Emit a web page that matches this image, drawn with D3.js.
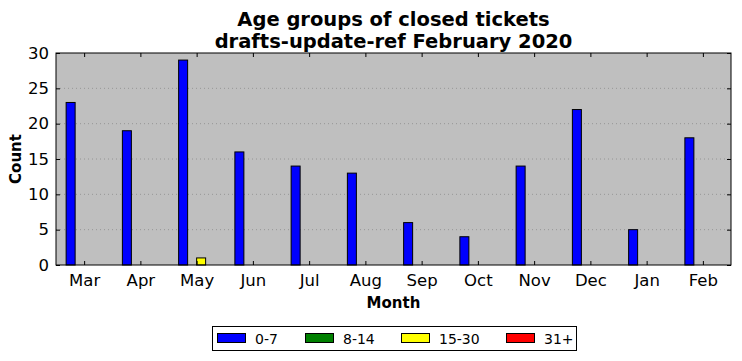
<!DOCTYPE html>
<html><head><meta charset="utf-8">
<script src="https://cdn.jsdelivr.net/npm/d3@7"></script>
<style>body{margin:0;background:#fff}svg{display:block}text{font-family:"DejaVu Sans",sans-serif}</style>
</head><body>
<svg id="c" width="742" height="361"></svg>
<script>
const months = ["Mar","Apr","May","Jun","Jul","Aug","Sep","Oct","Nov","Dec","Jan","Feb"];
const age0_7 = [23,19,29,16,14,13,6,4,14,22,5,18];
const age8_14 = [0,0,0,0,0,0,0,0,0,0,0,0];
const age15_30 = [0,0,1,0,0,0,0,0,0,0,0,0];
const age31p = [0,0,0,0,0,0,0,0,0,0,0,0];
const seriesNames = ["0-7","8-14","15-30","31+"];
const seriesColors = ["#0000ff","#008000","#ffff00","#ff0000"];
const yTicks = [0,5,10,15,20,25,30];
const series = [age0_7, age8_14, age15_30, age31p];

const svg = d3.select("#c");
const L=56, R=731, T=53, B=265;
const x = d3.scaleLinear().domain([-0.5, 11.5]).range([L, R]);
const y = d3.scaleLinear().domain([0, 30]).range([B, T]);
const bw = 0.16;

svg.append("rect").attr("x",L).attr("y",T).attr("width",R-L).attr("height",B-T).attr("fill","#bfbfbf");

// grid
svg.append("g").selectAll("line").data(yTicks.filter(d=>d>0&&d<30)).join("line")
  .attr("x1",L).attr("x2",R).attr("y1",d=>y(d)).attr("y2",d=>y(d))
  .attr("stroke","#8c8c8c").attr("stroke-width",0.8).attr("stroke-dasharray","1,3");

// bars
series.forEach((vals,k)=>{
  svg.append("g").selectAll("rect").data(vals).join("rect")
    .attr("x",(d,i)=>x(i+(k-2)*bw))
    .attr("width",x(bw)-x(0))
    .attr("y",d=>y(d))
    .attr("height",d=>y(0)-y(d))
    .attr("fill",seriesColors[k]).attr("stroke","#000").attr("stroke-width",1);
});

// axes
const gx = svg.append("g").attr("transform",`translate(0,${B})`)
  .call(d3.axisBottom(x).tickValues(d3.range(12)).tickFormat(i=>months[i]).tickSizeInner(-4).tickSizeOuter(0).tickPadding(9));
const gxt = svg.append("g").attr("transform",`translate(0,${T})`)
  .call(d3.axisTop(x).tickValues(d3.range(12)).tickFormat("").tickSizeInner(-4).tickSizeOuter(0));
const gy = svg.append("g").attr("transform",`translate(${L},0)`)
  .call(d3.axisLeft(y).tickValues(yTicks).tickSizeInner(-4).tickSizeOuter(0).tickPadding(7));
const gyr = svg.append("g").attr("transform",`translate(${R},0)`)
  .call(d3.axisRight(y).tickValues(yTicks).tickFormat("").tickSizeInner(-4).tickSizeOuter(0));
[gx,gxt,gy,gyr].forEach(g=>{
  g.select(".domain").remove();
  g.selectAll("line").attr("stroke","#000");
  g.selectAll("text").attr("font-size",16.5).attr("fill","#000").attr("font-family","DejaVu Sans");
});
svg.append("rect").attr("x",L).attr("y",T).attr("width",R-L).attr("height",B-T).attr("fill","none").attr("stroke","#000").attr("stroke-width",1);

// titles
const cx=(L+R)/2;
svg.append("text").attr("x",cx).attr("y",26).attr("text-anchor","middle").attr("font-size",19.5).attr("font-weight","bold").text("Age groups of closed tickets");
svg.append("text").attr("x",cx).attr("y",48).attr("text-anchor","middle").attr("font-size",19.5).attr("font-weight","bold").text("drafts-update-ref February 2020");
svg.append("text").attr("x",cx).attr("y",308).attr("text-anchor","middle").attr("font-size",15).attr("font-weight","bold").text("Month");
svg.append("text").attr("transform",`translate(21,${(T+B)/2}) rotate(-90)`).attr("text-anchor","middle").attr("font-size",15).attr("font-weight","bold").text("Count");

// legend
const lg = svg.append("g");
lg.append("rect").attr("x",212.5).attr("y",326.5).attr("width",364).attr("height",24).attr("fill","#fff").attr("stroke","#000");
const lx = [217, 305, 401, 506];
seriesNames.forEach((n,k)=>{
  lg.append("rect").attr("x",lx[k]+0.5).attr("y",333.5).attr("width",28).attr("height",9).attr("fill",seriesColors[k]).attr("stroke","#000");
  lg.append("text").attr("x",lx[k]+38).attr("y",343.5).attr("font-size",14).text(n);
});
</script>
</body></html>
